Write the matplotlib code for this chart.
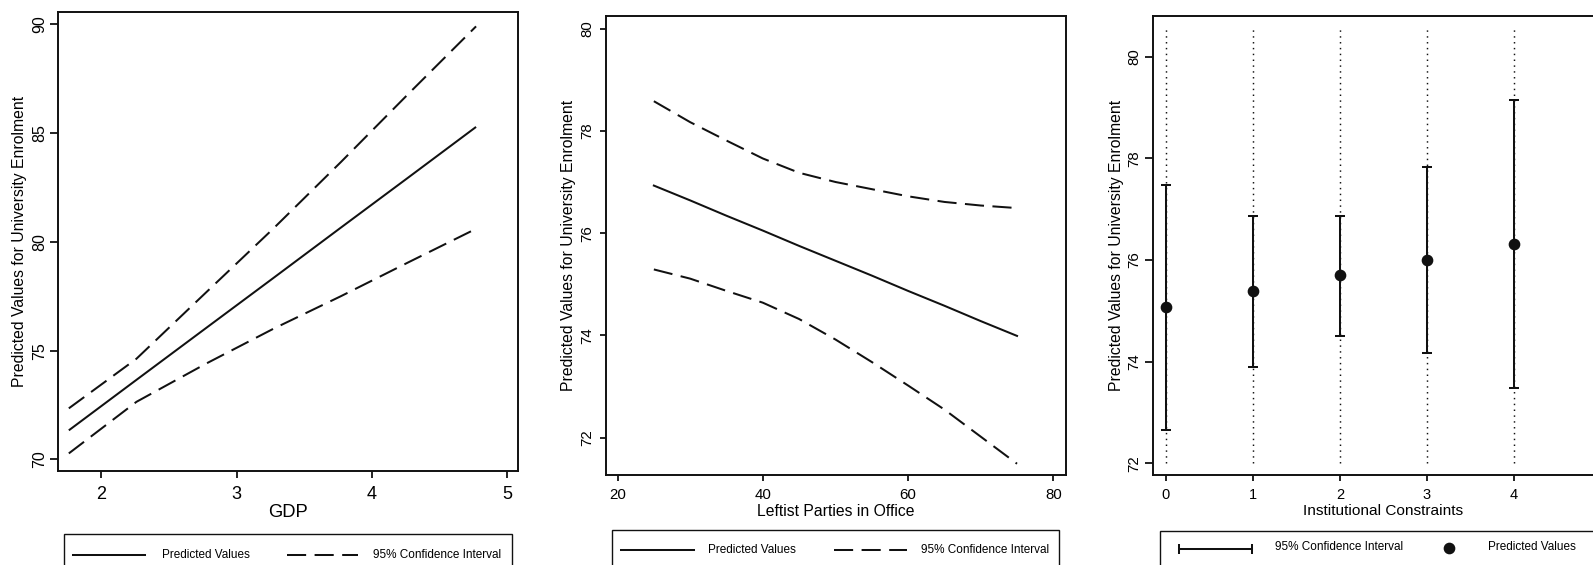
import matplotlib
matplotlib.use("Agg")
import matplotlib.pyplot as plt
from matplotlib.lines import Line2D
from matplotlib.patches import Rectangle

plt.rcParams['font.family'] = ['Liberation Sans', 'DejaVu Sans']

# ---- Predicted university enrolment by GDP ----
gdp = [1.76, 2.26, 2.77, 3.27, 3.77, 4.27, 4.77]
gdp_pred = [71.34, 73.66, 76.02, 78.33, 80.65, 82.96, 85.28]
gdp_upper = [72.35, 74.63, 77.65, 80.60, 83.66, 86.80, 89.90]
gdp_lower = [70.28, 72.65, 74.39, 76.00, 77.50, 79.06, 80.60]

# ---- Predicted university enrolment by leftist parties in office ----
left = [25, 30, 35, 40, 45, 50, 55, 60, 65, 70, 75]
left_pred = [76.93, 76.64, 76.34, 76.05, 75.75, 75.46, 75.17, 74.87, 74.58, 74.28, 73.99]
left_upper = [78.58, 78.17, 77.81, 77.46, 77.18, 77.00, 76.86, 76.72, 76.61, 76.54, 76.49]
left_lower = [75.29, 75.11, 74.87, 74.64, 74.32, 73.92, 73.48, 73.02, 72.55, 72.02, 71.49]

# ---- Predicted university enrolment by institutional constraints ----
constraints = [0, 1, 2, 3, 4]
inst_pred = [75.08, 75.39, 75.70, 76.01, 76.32]
inst_hi = [77.47, 76.87, 76.87, 77.83, 79.15]
inst_lo = [72.66, 73.89, 74.51, 74.18, 73.48]
spike_lo, spike_hi = 72.0, 80.57

ylabel = "Predicted Values for University Enrolment"
lbl_pred = "Predicted Values"
lbl_ci = "95% Confidence Interval"

W, H = 1593, 565
fig = plt.figure(figsize=(W / 100, H / 100), dpi=100)


def px_axes(x0, y0, x1, y1):
    """Axes rectangle given in pixel coordinates measured from the top-left."""
    return fig.add_axes([x0 / W, 1 - y1 / H, (x1 - x0) / W, (y1 - y0) / H])


def fx(x):
    return x / W


def fy(y):
    return 1 - y / H


INK = "#111111"
LW = 1.45
DASH = (0, (9.5, 4.2))


def style_axes(ax, xtick_size, ytick_size, xlen, ylen, xpad, ypad):
    for s in ax.spines.values():
        s.set_linewidth(1.4)
        s.set_color(INK)
    ax.tick_params(axis='x', labelsize=xtick_size, length=xlen, width=1.3,
                   pad=xpad, color=INK)
    ax.tick_params(axis='y', labelsize=ytick_size, length=ylen, width=1.3,
                   pad=ypad, color=INK, labelrotation=90)
    for t in ax.get_yticklabels():
        t.set_verticalalignment('center')


# Panel 1: GDP
ax1 = px_axes(58, 12, 518, 470.6)
ax1.plot(gdp, gdp_pred, color=INK, lw=LW, solid_capstyle='butt')
ax1.plot(gdp, gdp_upper, color=INK, lw=LW, linestyle=DASH)
ax1.plot(gdp, gdp_lower, color=INK, lw=LW, linestyle=DASH)
ax1.set_xlim(1.68, 5.08)
ax1.set_ylim(69.49, 90.56)
ax1.set_xticks([2, 3, 4, 5])
ax1.set_yticks([70, 75, 80, 85, 90])
style_axes(ax1, 13, 11.5, 5.3, 5.5, 5.5, 2.5)
ax1.set_xlabel("GDP", fontsize=13.2, va='center')
ax1.xaxis.set_label_coords(0.5, -0.0914)
ax1.set_ylabel(ylabel, fontsize=11.3, va='center')
ax1.yaxis.set_label_coords((19.5 - 58) / 460, 0.5)

# Panel 2: leftist parties in office
ax2 = px_axes(605.7, 15.8, 1065.7, 475)
ax2.plot(left, left_pred, color=INK, lw=LW)
ax2.plot(left, left_upper, color=INK, lw=LW, linestyle=DASH)
ax2.plot(left, left_lower, color=INK, lw=LW, linestyle=DASH)
ax2.set_xlim(18.37, 81.7)
ax2.set_ylim(71.27, 80.25)
ax2.set_xticks([20, 40, 60, 80])
ax2.set_yticks([72, 74, 76, 78, 80])
style_axes(ax2, 10.8, 10.8, 4.2, 4.5, 5.0, 3.5)
ax2.set_xlabel("Leftist Parties in Office", fontsize=11.3, va='center')
ax2.xaxis.set_label_coords(0.5, (475 - 511.5) / 459.2)
ax2.set_ylabel(ylabel, fontsize=11.3, va='center')
ax2.yaxis.set_label_coords((568 - 605.7) / 460, 0.5)

# Panel 3: institutional constraints
ax3 = px_axes(1152.7, 15.7, 1614, 475)
ax3.vlines(constraints, spike_lo, spike_hi, colors=INK, lw=1.05,
           linestyles=[(0, (1.0, 3.0))])
lo_err = [p - l for p, l in zip(inst_pred, inst_lo)]
hi_err = [h - p for p, h in zip(inst_pred, inst_hi)]
ax3.errorbar(constraints, inst_pred, yerr=[lo_err, hi_err], fmt='o',
             color=INK, ms=7.4, elinewidth=LW, capsize=3.4, capthick=LW)
ax3.set_xlim(-0.15, 5.15)
ax3.set_ylim(71.77, 80.81)
ax3.set_xticks(constraints)
ax3.set_yticks([72, 74, 76, 78, 80])
style_axes(ax3, 10.5, 10.8, 4.2, 5.5, 5.0, 2.5)
ax3.set_xlabel("Institutional Constraints", fontsize=11.1, va='center')
ax3.xaxis.set_label_coords(0.5, (475 - 511) / 459.3)
ax3.set_ylabel(ylabel, fontsize=11.3, va='center')
ax3.yaxis.set_label_coords((1116 - 1152.7) / 461.3, 0.5)


# Legend boxes beneath each panel
LEG_FS = 8.5


def legend_frame(x0, x1, top):
    fig.add_artist(Rectangle((fx(x0), fy(top + 60)), fx(x1) - fx(x0),
                             fy(top) - fy(top + 60), transform=fig.transFigure,
                             fill=False, lw=1.0, edgecolor=INK))


def legend_line(x0, x1, y, ls):
    fig.add_artist(Line2D([fx(x0), fx(x1)], [fy(y), fy(y)],
                          transform=fig.transFigure, color=INK, lw=LW,
                          linestyle=ls))


def legend_text(x, y, s):
    fig.text(fx(x), fy(y), s, fontsize=LEG_FS, ha='left', va='center')


legend_frame(64.2, 511.5, 533.7)
legend_line(72.6, 145.3, 555, '-')
legend_text(161.5, 555, lbl_pred)
legend_line(286.5, 358.1, 555, DASH)
legend_text(373.3, 555, lbl_ci)

legend_frame(612.1, 1059.0, 530)
legend_line(620.5, 693.9, 550, '-')
legend_text(708.4, 550, lbl_pred)
legend_line(834.0, 906.7, 550, DASH)
legend_text(921.2, 550, lbl_ci)

legend_frame(1160.0, 1610.0, 530.5)
fig.add_artist(Line2D([fx(1179), fx(1251.7)], [fy(549), fy(549)],
                      transform=fig.transFigure, color=INK, lw=LW,
                      marker='|', markevery=[0, 1], ms=6.5, mew=LW))
legend_text(1275, 547, lbl_ci)
fig.add_artist(Line2D([fx(1449)], [fy(548)], transform=fig.transFigure,
                      color=INK, marker='o', ms=7.4, lw=0))
legend_text(1488.3, 547, lbl_pred)

fig.savefig("out.png", dpi=100, facecolor='white')
